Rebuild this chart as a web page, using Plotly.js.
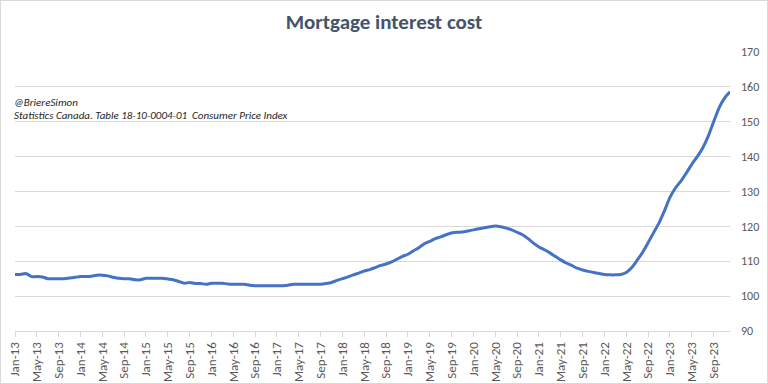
<!DOCTYPE html>
<html>
<head>
<meta charset="utf-8">
<script src="https://cdn.plot.ly/plotly-3.0.1.min.js"></script>
<style>
html,body{margin:0;padding:0;background:#fff;}
#chart{width:768px;height:384px;box-sizing:border-box;border:1px solid #D9D9D9;}
</style>
</head>
<body>
<div id="chart"></div>
<script>
const months = ["Jan","Feb","Mar","Apr","May","Jun","Jul","Aug","Sep","Oct","Nov","Dec"];
const years = ["13","14","15","16","17","18","19","20","21","22","23"];
const categories = [];
years.forEach(y => months.forEach(m => categories.push(m + "-" + y)));

const values2013 = [106.2,106.2,106.5,105.6,105.6,105.5,105.0,105.0,105.0,105.0,105.2,105.4];
const values2014 = [105.6,105.6,105.7,106.0,106.0,105.8,105.4,105.1,105.0,105.0,104.7,104.7];
const values2015 = [105.1,105.1,105.1,105.1,104.9,104.7,104.2,103.7,103.9,103.6,103.6,103.4];
const values2016 = [103.7,103.7,103.7,103.5,103.4,103.4,103.4,103.1,103.0,103.0,103.0,103.0];
const values2017 = [103.0,103.0,103.1,103.4,103.4,103.4,103.4,103.4,103.4,103.6,103.9,104.5];
const values2018 = [105.0,105.5,106.1,106.6,107.2,107.6,108.2,108.8,109.2,109.8,110.6,111.4];
const values2019 = [112.0,113.0,113.9,115.0,115.7,116.5,117.0,117.6,118.1,118.3,118.4,118.7];
const values2020 = [119.0,119.3,119.6,119.9,120.1,119.9,119.5,119.0,118.3,117.6,116.5,115.2];
const values2021 = [114.1,113.3,112.4,111.4,110.4,109.5,108.8,108.0,107.5,107.1,106.8,106.5];
const values2022 = [106.2,106.1,106.1,106.2,106.8,108.2,110.3,112.6,115.3,118.2,121.0,124.5];
const values2023 = [128.3,131.0,133.0,135.3,137.8,140.0,142.5,145.8,150.0,154.0,156.8,158.6];
const mortgageInterestCost = [].concat(values2013,values2014,values2015,values2016,values2017,
  values2018,values2019,values2020,values2021,values2022,values2023);

const tickLabels = categories.filter((c,i) => i % 4 === 0);
const yTicks = [90,100,110,120,130,140,150,160,170];

const font = "Carlito, Calibri, Lato, 'Liberation Sans', sans-serif";

const trace = {
  x: categories,
  y: mortgageInterestCost,
  type: "scatter",
  mode: "lines",
  line: {color: "#4472C4", width: 3, shape: "spline", smoothing: 0.6},
  hoverinfo: "x+y"
};

const layout = {
  width: 766, height: 382,
  margin: {l: 14, r: 37, t: 51, b: 52},
  paper_bgcolor: "#ffffff",
  plot_bgcolor: "#ffffff",
  showlegend: false,
  title: {text: "<b>Mortgage interest cost</b>", x: 0.5, xanchor: "center", y: 0.945, yanchor: "middle",
          font: {family: font, size: 21, color: "#44546A"}},
  xaxis: {
    type: "category",
    range: [0, categories.length - 1],
    tickmode: "array",
    tickvals: tickLabels,
    ticktext: tickLabels,
    tickangle: -90,
    ticks: "outside", ticklen: 5, tickcolor: "#D9D9D9",
    showline: true, linecolor: "#D9D9D9", linewidth: 1,
    showgrid: false, zeroline: false,
    tickfont: {family: font, size: 13, color: "#595959"}
  },
  yaxis: {
    side: "right",
    range: [90, 170],
    tickmode: "array",
    tickvals: yTicks,
    ticks: "",
    ticklabelstandoff: 10,
    showgrid: true, gridcolor: "#D9D9D9", gridwidth: 1,
    zeroline: false, showline: false,
    tickfont: {family: font, size: 12, color: "#595959"}
  },
  annotations: [
    {text: "<i>@BriereSimon</i>", xref: "paper", yref: "paper", x: -0.004, y: 0.82, xanchor: "left", yanchor: "middle",
     showarrow: false, font: {family: font, size: 11, color: "#262626"}},
    {text: "<i>Statistics Canada. Table 18-10-0004-01  Consumer Price Index</i>", xref: "paper", yref: "paper",
     x: -0.004, y: 0.772, xanchor: "left", yanchor: "middle",
     showarrow: false, font: {family: font, size: 11, color: "#262626"}}
  ]
};

Plotly.newPlot("chart", [trace], layout, {displayModeBar: false, staticPlot: true});
</script>
</body>
</html>
